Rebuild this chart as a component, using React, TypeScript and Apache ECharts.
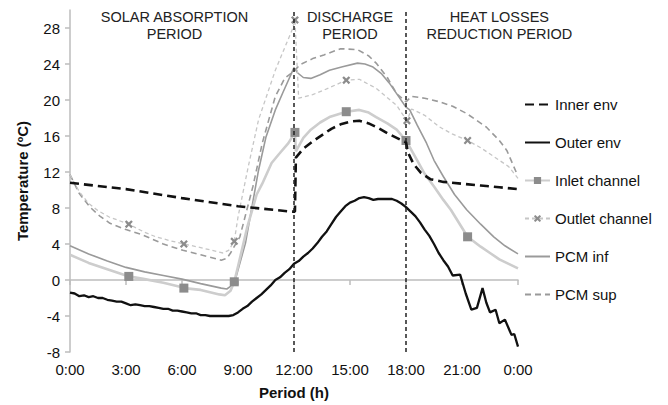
import React, { useEffect, useRef } from "react";
import * as echarts from "echarts";

// Time axis (hours), tick every 3 h, labels as clock times
const hourTicks = [0, 3, 6, 9, 12, 15, 18, 21, 24];
const periodLines = [12, 18];
const periodLabels = [
  { text: "SOLAR ABSORPTION\nPERIOD", hour: 5.6 },
  { text: "DISCHARGE\nPERIOD", hour: 15 },
  { text: "HEAT LOSSES\nREDUCTION PERIOD", hour: 23 },
];

const innerEnv: [number, number][] = [
  [0, 10.8], [3, 10.1], [6, 9.1], [9, 8.2], [11.85, 7.6], [12.05, 7.6], [12.1, 13.6],
  [12.5, 14.6], [13, 15.4], [13.5, 16.1], [14, 16.8], [14.5, 17.3], [15, 17.6],
  [15.5, 17.7], [16, 17.4], [16.5, 16.9], [17, 16.3], [17.5, 15.8], [18, 15.3],
  [18.1, 14.2], [18.4, 12.9], [18.8, 11.9], [19.3, 11.2], [20, 10.9], [21, 10.7],
  [22, 10.5], [23, 10.3], [24, 10.1],
];

const outerEnv: [number, number][] = [
  [0, -1.4], [0.25, -1.5], [0.5, -1.8], [0.75, -1.7], [1, -1.9], [1.25, -1.8], [1.5, -2.0],
  [1.75, -2.0], [2, -2.2], [2.25, -2.3], [2.5, -2.4], [2.75, -2.4], [3, -2.6], [3.25, -2.8],
  [3.5, -2.7], [3.75, -2.8], [4, -2.9], [4.25, -2.9], [4.5, -3.0], [4.75, -3.1], [5, -3.2],
  [5.25, -3.2], [5.5, -3.4], [5.75, -3.4], [6, -3.5], [6.25, -3.6], [6.5, -3.7], [6.75, -3.7],
  [7, -3.9], [7.25, -3.9], [7.5, -4.0], [7.75, -4.0], [8, -4.0], [8.25, -4.0], [8.5, -4.0],
  [8.75, -3.9], [9, -3.6], [9.25, -3.2], [9.5, -2.9], [9.75, -2.4], [10, -2.0], [10.25, -1.6],
  [10.5, -1.1], [10.75, -0.6], [11, 0.0], [11.25, 0.3], [11.5, 0.8], [11.75, 1.2], [12, 1.8],
  [12.25, 2.1], [12.5, 2.6], [12.75, 3.0], [13, 3.5], [13.25, 4.1], [13.5, 4.8], [13.75, 5.4],
  [14, 6.2], [14.25, 7.0], [14.5, 7.6], [14.75, 8.2], [15, 8.6], [15.25, 8.8], [15.5, 9.1],
  [15.75, 9.2], [16, 9.1], [16.25, 8.9], [16.5, 9.0], [16.75, 9.0], [17, 9.0], [17.25, 9.0],
  [17.5, 8.8], [17.75, 8.5], [18, 8.1], [18.25, 7.6], [18.5, 7.1], [18.75, 6.4], [19, 5.6],
  [19.25, 4.9], [19.5, 4.0], [19.75, 3.0], [20, 2.2], [20.25, 1.5], [20.5, 0.5], [20.9, 0.6],
  [21.2, -1.5], [21.5, -3.3], [21.8, -3.1], [22.1, -0.9], [22.3, -2.5], [22.5, -3.6],
  [22.8, -3.3], [23.0, -4.8], [23.3, -4.4], [23.65, -6.1], [23.8, -6.0], [24, -7.4],
];

const inletChannel: [number, number][] = [
  [0, 2.8], [1, 1.9], [2, 1.2], [3, 0.5], [4, 0.1], [5, -0.3], [6, -0.8], [7, -1.1],
  [8, -1.6], [8.3, -1.7], [8.6, -1.2], [9, 1.5], [9.5, 5.9], [10, 9.5], [10.3, 10.7],
  [10.8, 13.0], [11.2, 14.0], [11.7, 15.2], [12.1, 14.3], [12.5, 15.8], [12.9, 16.7],
  [13.4, 17.5], [13.9, 18.1], [15.5, 18.9], [16, 18.6], [16.4, 18.1], [17, 17.4],
  [17.5, 16.7], [18.6, 13.3], [19, 11.8], [19.5, 10.4], [20, 8.9], [20.4, 7.8],
  [22, 3.7], [22.5, 3.0], [23, 2.3], [23.5, 1.8], [24, 1.3],
];
const inletMarkers: [number, number][] = [
  [3.15, 0.4], [6.1, -0.9], [8.8, -0.2], [12.05, 16.4], [14.8, 18.7], [18.0, 15.5], [21.3, 4.8],
];

const outletChannel: [number, number][] = [
  [0, 11.7], [0.5, 9.8], [1, 8.5], [1.5, 7.7], [2.1, 7.0], [4, 5.3], [4.6, 4.8], [5.3, 4.4],
  [7, 3.6], [8.2, 3.0], [8.5, 3.3], [9.0, 7.0], [9.55, 12.6], [10.1, 17.8], [11, 23.3],
  [11.9, 27.8], [12.25, 20.2], [13, 20.6], [13.6, 21.1], [15.5, 22.3], [16.4, 21.3],
  [17.5, 19.4], [18.3, 19.0], [19, 18.3], [19.8, 17.0], [20.5, 16.2], [22, 14.7],
  [23, 13.3], [23.5, 12.6], [24, 11.3],
];
const outletMarkers: [number, number][] = [
  [3.15, 6.2], [6.1, 4.0], [8.8, 4.3], [12.05, 28.9], [14.8, 22.2], [18.05, 17.7], [21.3, 15.5],
];

const pcmInf: [number, number][] = [
  [0, 3.8], [1, 2.9], [2, 2.1], [3, 1.4], [4, 0.9], [5, 0.5], [6, 0.1], [7, -0.4], [8.1, -0.9],
  [8.4, -1.0], [8.6, -0.7], [8.85, 0.0], [9.4, 4.1], [10.1, 12.2], [10.5, 15.9], [11, 18.9],
  [11.4, 20.8], [11.7, 22.2], [12.0, 23.6], [12.2, 23.0], [12.5, 22.5], [12.9, 22.4],
  [13.4, 22.8], [13.9, 23.3], [14.6, 23.7], [15.4, 24.1], [15.8, 24.0], [16.2, 23.7],
  [16.7, 22.9], [17.1, 21.9], [17.6, 20.4], [18.0, 19.2], [18.2, 18.9], [18.6, 17.2],
  [19.1, 15.2], [19.5, 13.3], [20.0, 11.5], [20.6, 9.5], [21.25, 7.8], [22, 6.2],
  [22.7, 4.8], [23.3, 3.8], [24, 2.9],
];

const pcmSup: [number, number][] = [
  [0, 11.7], [0.5, 9.6], [1.07, 8.1], [1.6, 7.1], [2.14, 6.3], [3, 5.6], [3.9, 5.0], [5, 4.0],
  [6.05, 3.3], [7, 2.8], [8.1, 2.2], [8.4, 2.4], [8.6, 3.0], [9.1, 4.8], [9.8, 10.4],
  [10.3, 15.2], [11, 20.4], [11.5, 22.4], [12.05, 23.3], [12.3, 23.9], [13, 24.6],
  [13.6, 25.0], [14.5, 25.7], [15.4, 25.6], [16, 24.9], [16.4, 24.1], [17, 22.5],
  [17.5, 20.7], [18, 19.8], [18.3, 20.4], [19, 20.2], [19.8, 19.8], [20.5, 19.3],
  [21.25, 18.5], [22.3, 17.0], [23, 15.5], [23.4, 14.4], [23.9, 12.0],
];

const FONT = "'Liberation Sans', Arial, sans-serif";
const crossPath =
  "path://M2,0L5,3L8,0L10,2L7,5L10,8L8,10L5,7L2,10L0,8L3,5L0,2Z";
const noMarker = { color: "rgba(0,0,0,0)", borderWidth: 0 };

function withMarkers(line: [number, number][], markers: [number, number][]) {
  const items = [
    ...line.map((p) => ({ value: p, plain: true })),
    ...markers.map((p) => ({ value: p, plain: false })),
  ];
  items.sort((a, b) => a.value[0] - b.value[0]);
  return items.map((it) => (it.plain ? { value: it.value, symbol: "none" } : { value: it.value }));
}

export default function App() {
  const ref = useRef<HTMLDivElement>(null);
  useEffect(() => {
    if (!ref.current) return;
    const chart = echarts.init(ref.current, undefined, { renderer: "svg" });
    const gridLeft = 70;
    const gridRight = 150;
    const plotW = 668 - gridLeft - gridRight;
    const hx = (h: number) => gridLeft + (h / 24) * plotW;
    chart.setOption({
      animation: false,
      textStyle: { fontFamily: FONT },
      grid: { left: gridLeft, right: gridRight, top: 10, bottom: 53 },
      legend: {
        orient: "vertical",
        left: 519,
        top: 91,
        itemWidth: 25,
        itemHeight: 9,
        itemGap: 21,
        textStyle: { fontSize: 15, color: "#111", fontFamily: FONT, lineHeight: 17 },
        data: [
          { name: "Inner env", itemStyle: noMarker },
          { name: "Outer env", itemStyle: noMarker },
          { name: "Inlet channel" },
          { name: "Outlet channel" },
          { name: "PCM inf", itemStyle: noMarker },
          { name: "PCM sup", itemStyle: noMarker },
        ],
      },
      graphic: periodLabels.map((p) => ({
        type: "text",
        x: hx(p.hour),
        y: 8,
        style: {
          text: p.text,
          textAlign: "center",
          textVerticalAlign: "top",
          font: `14.5px ${FONT}`,
          lineHeight: 17,
          fill: "#222",
        },
      })),
      xAxis: {
        type: "value",
        min: 0,
        max: 24,
        interval: 3,
        name: "Period (h)",
        nameLocation: "middle",
        nameGap: 33,
        nameTextStyle: { fontSize: 15, fontWeight: "bold", color: "#111", fontFamily: FONT },
        axisLine: { lineStyle: { color: "#bdbdbd", width: 1.5 } },
        axisTick: { show: true, length: 5, lineStyle: { color: "#bdbdbd", width: 1.5 } },
        axisLabel: {
          fontSize: 15,
          color: "#111",
          margin: 10,
          formatter: (v: number) => (hourTicks.includes(v) ? `${v % 24}:00` : ""),
        },
        splitLine: { show: false },
      },
      yAxis: {
        type: "value",
        min: -8,
        max: 30,
        interval: 4,
        name: "Temperature (ºC)",
        nameLocation: "middle",
        nameGap: 40,
        nameTextStyle: { fontSize: 15, fontWeight: "bold", color: "#111", fontFamily: FONT },
        axisLine: { show: true, lineStyle: { color: "#bdbdbd", width: 1.5 } },
        axisTick: { show: true, length: 5, lineStyle: { color: "#bdbdbd", width: 1.5 } },
        axisLabel: {
          fontSize: 15,
          color: "#111",
          margin: 10,
          showMaxLabel: false,
          formatter: (v: number) => (v > 28 ? "" : String(v)),
        },
        splitLine: { show: false },
      },
      series: [
        {
          name: "Inner env",
          type: "line",
          data: innerEnv,
          showSymbol: false,
          symbol: "none",
          lineStyle: { color: "#111", width: 2.6, type: [9, 5] },
          itemStyle: { color: "#111" },
          z: 4,
        },
        {
          name: "Outer env",
          type: "line",
          data: outerEnv,
          showSymbol: false,
          symbol: "none",
          lineStyle: { color: "#111", width: 2.3 },
          itemStyle: { color: "#111" },
          z: 4,
          markLine: {
            silent: true,
            symbol: ["none", "none"],
            label: { show: false },
            lineStyle: { color: "#222", width: 1.5, type: [4, 3] },
            data: periodLines.map((h) => ({ xAxis: h })),
          },
        },
        {
          name: "Inlet channel",
          type: "line",
          data: withMarkers(inletChannel, inletMarkers),
          symbol: "rect",
          symbolSize: 9,
          showSymbol: true,
          lineStyle: { color: "#cdcdcd", width: 2.6 },
          itemStyle: { color: "#8c8c8c" },
          z: 3,
        },
        {
          name: "Outlet channel",
          type: "line",
          data: withMarkers(outletChannel, outletMarkers),
          symbol: crossPath,
          symbolSize: 8,
          showSymbol: true,
          lineStyle: { color: "#c6c6c6", width: 1.3, type: [4, 3] },
          itemStyle: { color: "#8c8c8c" },
          z: 3,
        },
        {
          name: "PCM inf",
          type: "line",
          data: pcmInf,
          showSymbol: false,
          symbol: "none",
          lineStyle: { color: "#9a9a9a", width: 1.6 },
          itemStyle: { color: "#9a9a9a" },
          z: 2,
        },
        {
          name: "PCM sup",
          type: "line",
          data: pcmSup,
          showSymbol: false,
          symbol: "none",
          lineStyle: { color: "#9a9a9a", width: 1.6, type: [6, 4] },
          itemStyle: { color: "#9a9a9a" },
          z: 2,
        },
      ],
    });
    return () => chart.dispose();
  }, []);
  return <div ref={ref} style={{ width: 668, height: 405, position: "absolute", left: 0, top: 0 }} />;
}
